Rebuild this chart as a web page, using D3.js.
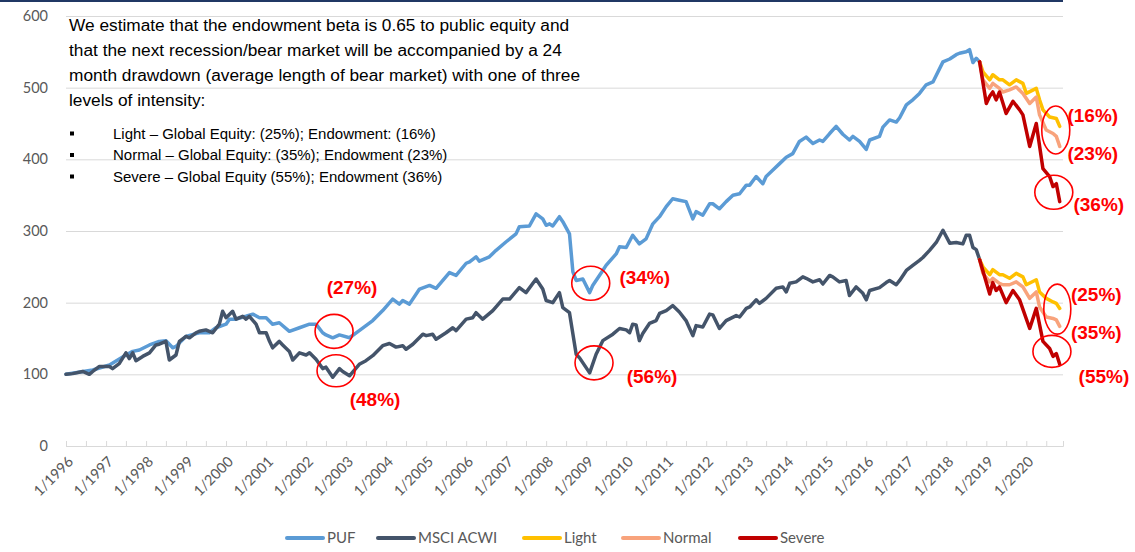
<!DOCTYPE html>
<meta charset="utf-8">
<script src="https://d3js.org/d3.v7.min.js"></script>
<style>
  body { margin: 0; background: #fff; }
</style>
<div id="chart"></div>
<script>

// ---- data (index, Jan 1996 = 100) ----
const puf = [
  ["1996-01",100],["1996-09",106],["1997-02",113],["1997-07",127],["1997-09",132],["1997-11",134],
  ["1998-02",141],["1998-05",146],["1998-07",147],["1998-09",137],["1998-10",139],["1999-01",153],
  ["1999-05",158],["1999-08",158],["1999-10",165],["2000-01",170],["2000-02",177],["2000-04",177],
  ["2000-07",181],["2000-09",184],["2000-11",179],["2001-01",179],["2001-03",170],["2001-05",172],
  ["2001-08",160],["2001-11",165],["2002-02",170],["2002-04",170],["2002-06",158],["2002-07",155],
  ["2002-09",151],["2002-11",155],["2003-02",151],["2003-05",161],["2003-09",175],["2003-12",189],
  ["2004-03",205],["2004-05",198],["2004-06",203],["2004-08",198],["2004-11",219],["2005-02",224],
  ["2005-04",220],["2005-08",242],["2005-10",238],["2006-01",255],["2006-02",257],["2006-04",264],
  ["2006-05",258],["2006-08",264],["2006-10",273],["2007-01",285],["2007-04",296],["2007-05",306],
  ["2007-08",307],["2007-10",324],["2007-12",317],["2008-01",308],["2008-02",310],["2008-03",307],
  ["2008-05",320],["2008-06",313],["2008-08",296],["2008-09",243],["2008-10",231],["2008-12",233],
  ["2009-02",214],["2009-03",224],["2009-06",245],["2009-07",252],["2009-10",268],["2009-11",278],
  ["2010-01",277],["2010-03",294],["2010-05",282],["2010-07",289],["2010-09",310],["2010-11",320],
  ["2011-01",334],["2011-03",345],["2011-05",343],["2011-07",341],["2011-09",317],["2011-10",327],
  ["2011-12",322],["2012-02",338],["2012-03",338],["2012-05",331],["2012-07",341],["2012-09",350],
  ["2012-11",352],["2013-01",364],["2013-02",364],["2013-04",376],["2013-06",366],["2013-07",376],
  ["2013-09",385],["2013-11",394],["2014-01",403],["2014-03",408],["2014-05",425],["2014-07",431],
  ["2014-09",422],["2014-11",427],["2014-12",425],["2015-02",436],["2015-04",446],["2015-06",435],
  ["2015-08",427],["2015-09",432],["2015-11",425],["2016-01",414],["2016-02",427],["2016-05",432],
  ["2016-06",445],["2016-08",455],["2016-10",452],["2016-11",458],["2017-01",476],["2017-03",483],
  ["2017-05",492],["2017-07",504],["2017-09",508],["2017-12",536],["2018-02",540],["2018-04",546],
  ["2018-05",548],["2018-07",550],["2018-08",553],["2018-09",535],["2018-10",541],["2018-11",536]
];

const acwi = [
  ["1996-01",100],["1996-03",101],["1996-06",104],["1996-08",100],["1996-09",104],["1996-11",111],
  ["1997-02",111],["1997-03",108],["1997-05",115],["1997-07",130],["1997-08",122],["1997-09",130],
  ["1997-10",119],["1997-12",125],["1998-02",130],["1998-04",141],["1998-05",142],["1998-07",146],
  ["1998-08",120],["1998-10",127],["1998-11",146],["1999-01",153],["1999-02",151],["1999-04",158],
  ["1999-05",160],["1999-07",162],["1999-09",158],["1999-11",170],["1999-12",188],["2000-01",179],
  ["2000-03",188],["2000-04",177],["2000-06",181],["2000-07",177],["2000-08",181],["2000-10",170],
  ["2000-11",158],["2001-01",158],["2001-02",146],["2001-03",137],["2001-05",146],["2001-06",141],
  ["2001-08",132],["2001-09",120],["2001-11",130],["2002-01",127],["2002-02",130],["2002-04",121],
  ["2002-06",108],["2002-07",110],["2002-09",96],["2002-11",108],["2002-12",104],["2003-02",98],
  ["2003-05",114],["2003-07",119],["2003-09",126],["2003-12",140],["2004-02",143],["2004-04",138],
  ["2004-06",140],["2004-07",135],["2004-09",142],["2004-12",156],["2005-01",154],["2005-03",156],
  ["2005-04",149],["2005-07",158],["2005-09",165],["2005-10",161],["2006-01",177],["2006-03",179],
  ["2006-04",186],["2006-06",177],["2006-09",189],["2006-12",205],["2007-02",205],["2007-05",221],
  ["2007-07",214],["2007-10",233],["2007-12",219],["2008-01",203],["2008-03",200],["2008-05",214],
  ["2008-06",193],["2008-08",186],["2008-10",128],["2008-11",123],["2009-02",102],["2009-04",128],
  ["2009-06",147],["2009-09",156],["2009-11",164],["2010-01",162],["2010-02",158],["2010-03",170],
  ["2010-04",169],["2010-05",147],["2010-06",157],["2010-08",171],["2010-10",175],["2010-11",185],
  ["2011-01",189],["2011-03",196],["2011-05",187],["2011-07",175],["2011-09",154],["2011-10",168],
  ["2011-12",166],["2012-02",184],["2012-03",183],["2012-05",164],["2012-07",175],["2012-10",182],
  ["2012-11",180],["2013-01",192],["2013-02",194],["2013-04",204],["2013-05",199],["2013-07",206],
  ["2013-10",220],["2013-12",222],["2014-01",215],["2014-02",227],["2014-04",229],["2014-06",236],
  ["2014-07",234],["2014-09",229],["2014-11",232],["2014-12",226],["2015-02",238],["2015-03",236],
  ["2015-05",229],["2015-07",231],["2015-08",210],["2015-10",222],["2015-12",213],["2016-01",204],
  ["2016-02",217],["2016-05",221],["2016-07",228],["2016-08",231],["2016-10",225],["2016-11",231],
  ["2017-01",245],["2017-03",252],["2017-05",259],["2017-06",263],["2017-08",273],["2017-10",284],
  ["2017-12",301],["2018-02",283],["2018-04",284],["2018-06",282],["2018-07",294],["2018-08",294],
  ["2018-09",277],["2018-10",274],["2018-11",260]
];

// drawdown scenarios, 24 months from Nov 2018
const pufLight = [
  ["2018-11",536],["2018-12",522],["2019-02",511],["2019-03",518],["2019-05",511],["2019-06",511],
  ["2019-08",504],["2019-10",511],["2019-12",506],["2020-01",492],["2020-04",499],["2020-05",483],
  ["2020-06",469],["2020-08",459],["2020-10",457],["2020-11",446]
];
const pufNormal = [
  ["2018-11",536],["2018-12",511],["2019-02",499],["2019-03",506],["2019-05",499],["2019-06",494],
  ["2019-08",497],["2019-10",501],["2019-12",492],["2020-02",478],["2020-04",487],["2020-05",462],
  ["2020-07",441],["2020-09",436],["2020-10",432],["2020-11",418]
];
const pufSevere = [
  ["2018-11",536],["2019-01",478],["2019-02",488],["2019-03",494],["2019-04",483],["2019-05",494],
  ["2019-07",464],["2019-09",481],["2019-11",469],["2019-12",462],["2020-02",418],["2020-04",450],
  ["2020-06",387],["2020-08",376],["2020-09",362],["2020-10",366],["2020-11",341]
];
const acwiLight = [
  ["2018-11",260],["2018-12",250],["2019-02",239],["2019-03",246],["2019-05",239],["2019-06",239],
  ["2019-08",234],["2019-10",241],["2019-12",236],["2020-01",225],["2020-04",232],["2020-05",215],
  ["2020-07",206],["2020-09",201],["2020-10",199],["2020-11",192]
];
const acwiNormal = [
  ["2018-11",260],["2018-12",241],["2019-02",229],["2019-03",234],["2019-05",227],["2019-06",225],
  ["2019-08",225],["2019-10",229],["2019-12",222],["2020-02",206],["2020-04",215],["2020-05",194],
  ["2020-07",180],["2020-09",178],["2020-10",176],["2020-11",167]
];
const acwiSevere = [
  ["2018-11",260],["2019-02",212],["2019-03",228],["2019-04",217],["2019-05",222],["2019-07",200],
  ["2019-09",217],["2019-11",204],["2020-02",164],["2020-04",192],["2020-06",146],["2020-08",136],
  ["2020-09",125],["2020-10",129],["2020-11",114]
];

const yTicks = [0, 100, 200, 300, 400, 500, 600];
const legendNames = ["PUF", "MSCI ACWI", "Light", "Normal", "Severe"];

const noteLines = [
  "We estimate that the endowment beta is 0.65 to public equity and",
  "that the next recession/bear market will be accompanied by a 24",
  "month drawdown (average length of bear market) with one of three",
  "levels of intensity:"
];
const bulletLines = [
  "Light \u2013 Global Equity: (25%); Endowment: (16%)",
  "Normal \u2013 Global Equity: (35%); Endowment (23%)",
  "Severe \u2013 Global Equity (55%); Endowment (36%)"
];

// drawdown callouts: circle centre in data space, labels offset in px
const callouts = [
  {date: "2002-09-13", value: 160, rx: 19, ry: 17, labels: [["(27%)", 18, -44]]},
  {date: "2002-10-01", value: 105, rx: 19, ry: 16, labels: [["(48%)", 39, 28]]},
  {date: "2009-02-11", value: 227, rx: 19, ry: 17, labels: [["(34%)", 54, -6]]},
  {date: "2009-03-13", value: 116, rx: 19, ry: 17, labels: [["(56%)", 58, 13]]},
  {date: "2020-09-26", value: 441, rx: 14, ry: 24, labels: [["(16%)", 37, -15], ["(23%)", 37, 23]]},
  {date: "2020-09-08", value: 354, rx: 19, ry: 17, labels: [["(36%)", 45, 12]]},
  {date: "2020-10-10", value: 191, rx: 13.5, ry: 25, labels: [["(25%)", 39, -15], ["(35%)", 39, 23]]},
  {date: "2020-08-22", value: 132, rx: 19, ry: 16, labels: [["(55%)", 52, 25]]}
];

// ---- layout ----
const width = 1135, height = 552;
const plotLeft = 66, plotRight = 1063, plotTop = 16, plotBottom = 446;

const colors = {
  "PUF": "#5B9BD5",
  "MSCI ACWI": "#44546A",
  "Light": "#FFC000",
  "Normal": "#F8A37C",
  "Severe": "#C00000"
};

const parseMonth = d3.timeParse("%Y-%m");
const parseDay = d3.timeParse("%Y-%m-%d");

const svg = d3.select("#chart")
  .append("svg")
  .attr("width", width)
  .attr("height", height);

// top rule from the slide
svg.append("rect")
  .attr("x", 0).attr("y", 0)
  .attr("width", plotRight).attr("height", 2)
  .attr("fill", "#203864");

var x = d3.scaleTime()
  .domain([parseMonth("1996-01"), parseMonth("2020-12")])
  .range([plotLeft, plotRight]);

var y = d3.scaleLinear()
  .domain([0, 600])
  .range([plotBottom, plotTop]);

// Y axis with gridlines
var yAxis = svg.append("g")
  .attr("transform", "translate(" + plotLeft + ",0)")
  .call(d3.axisLeft(y).tickValues(yTicks).tickSize(-(plotRight - plotLeft)).tickPadding(18));
yAxis.select(".domain").remove();
yAxis.selectAll("line").attr("stroke", "#d9d9d9").attr("stroke-width", 1);
yAxis.selectAll("text")
  .attr("fill", "#595959")
  .style("font-family", "Lato, 'Open Sans', sans-serif")
  .style("font-size", "14.5px");

// X axis: tick every 6 months, label every January
var halfYears = d3.timeMonth.every(6).range(parseMonth("1996-01"), parseMonth("2021-01"));
halfYears.push(parseMonth("2020-12"));
var xAxis = svg.append("g")
  .attr("transform", "translate(0," + plotBottom + ")")
  .call(d3.axisBottom(x)
    .tickValues(halfYears)
    .tickSize(-5)
    .tickFormat(function (d) { return d.getMonth() === 0 ? "1/" + d.getFullYear() : ""; }));
xAxis.select(".domain").attr("stroke", "#d9d9d9");
xAxis.selectAll("line").attr("stroke", "#d9d9d9");
xAxis.selectAll("text")
  .attr("x", 0).attr("y", 0).attr("dy", "0.35em")
  .attr("text-anchor", "end")
  .attr("transform", "translate(4,13) rotate(-45)")
  .attr("fill", "#595959")
  .style("font-family", "Lato, 'Open Sans', sans-serif")
  .style("font-size", "14.5px");

// lines
var line = d3.line()
  .x(function (d) { return x(parseMonth(d[0])); })
  .y(function (d) { return y(d[1]); });

var series = [
  [puf, "PUF"], [acwi, "MSCI ACWI"],
  [pufLight, "Light"], [acwiLight, "Light"],
  [pufNormal, "Normal"], [acwiNormal, "Normal"],
  [pufSevere, "Severe"], [acwiSevere, "Severe"]
];

svg.append("g").selectAll("path")
  .data(series)
  .enter().append("path")
  .attr("d", function (d) { return line(d[0]); })
  .attr("fill", "none")
  .attr("stroke", function (d) { return colors[d[1]]; })
  .attr("stroke-width", 3.5)
  .attr("stroke-linejoin", "round")
  .attr("stroke-linecap", "round");

// note text box
var note = svg.append("g")
  .style("font-family", "'Liberation Sans', Arial, sans-serif")
  .attr("fill", "#000");

note.selectAll(".noteLine")
  .data(noteLines)
  .enter().append("text")
  .attr("class", "noteLine")
  .attr("x", 69)
  .attr("y", function (d, i) { return 31 + i * 25; })
  .style("font-size", "17.3px")
  .text(function (d) { return d; });

note.selectAll(".bulletLine")
  .data(bulletLines)
  .enter().append("text")
  .attr("class", "bulletLine")
  .attr("x", 113)
  .attr("y", function (d, i) { return 138.5 + i * 21.5; })
  .style("font-size", "15px")
  .text(function (d) { return d; });

note.selectAll(".bullet")
  .data(bulletLines)
  .enter().append("rect")
  .attr("class", "bullet")
  .attr("x", 70)
  .attr("y", function (d, i) { return 131.5 + i * 21.5; })
  .attr("width", 4).attr("height", 4)
  .attr("fill", "#000");

// callouts
var call = svg.append("g");
callouts.forEach(function (c) {
  var cx = x(parseDay(c.date)), cy = y(c.value);
  call.append("ellipse")
    .attr("cx", cx).attr("cy", cy)
    .attr("rx", c.rx).attr("ry", c.ry)
    .attr("fill", "none")
    .attr("stroke", "#FF0000")
    .attr("stroke-width", 1.6);
  c.labels.forEach(function (l) {
    call.append("text")
      .attr("x", cx + l[1]).attr("y", cy + l[2])
      .attr("dy", "0.36em")
      .attr("text-anchor", "middle")
      .attr("fill", "#FF0000")
      .style("font-family", "'Liberation Sans', Arial, sans-serif")
      .style("font-weight", "bold")
      .style("font-size", "19px")
      .text(l[0]);
  });
});

// legend
var legendX = [285, 376, 522, 621, 738];
var legend = svg.append("g")
  .selectAll("g")
  .data(legendNames)
  .enter().append("g")
  .attr("transform", function (d, i) { return "translate(" + legendX[i] + ",538)"; });

legend.append("line")
  .attr("x1", 2).attr("x2", 38)
  .attr("stroke", function (d) { return colors[d]; })
  .attr("stroke-width", 4)
  .attr("stroke-linecap", "round");

legend.append("text")
  .attr("x", 42)
  .attr("dy", "0.35em")
  .attr("fill", "#595959")
  .style("font-family", "Lato, 'Open Sans', sans-serif")
  .style("font-size", "15px")
  .text(function (d) { return d; });

</script>
